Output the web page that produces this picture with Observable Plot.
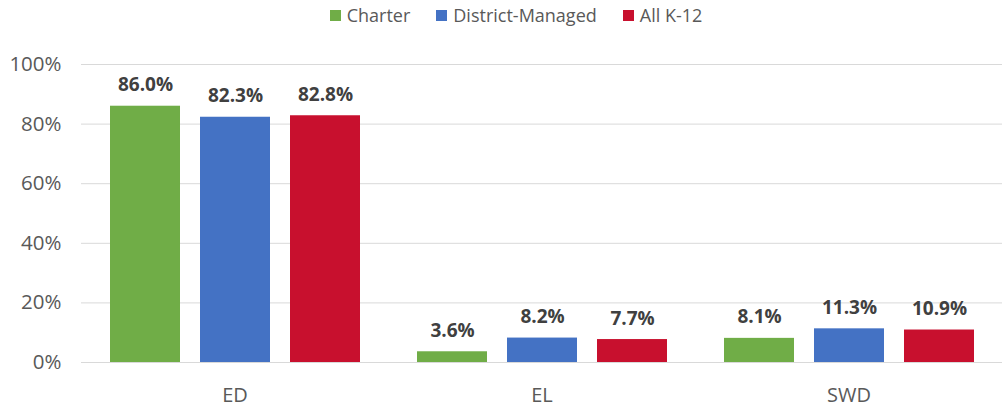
<!DOCTYPE html>
<html>
<head>
<meta charset="utf-8">
<script src="https://cdn.jsdelivr.net/npm/d3@7"></script>
<script src="https://cdn.jsdelivr.net/npm/@observablehq/plot@0.6"></script>
<style>
  html, body { margin: 0; padding: 0; background: #fff; }
  body { width: 1002px; font-family: "Open Sans", sans-serif; }
  #legend { height: 30px; display: flex; justify-content: center; align-items: center; gap: 26px; font-size: 18px; color: #595959; padding-left: 30px; box-sizing: border-box; }
  #legend .item { display: flex; align-items: center; gap: 6px; }
  #legend .sw { width: 11px; height: 11px; display: inline-block; }
  svg { display: block; }
</style>
</head>
<body>
<div id="legend"></div>
<div id="chart"></div>
<script>
const groups = ["ED", "EL", "SWD"];
const series = ["Charter", "District-Managed", "All K-12"];
const colors = ["#70AD47", "#4472C4", "#C8102E"];
const charter = [86.0, 3.6, 8.1];
const districtManaged = [82.3, 8.2, 11.3];
const allK12 = [82.8, 7.7, 10.9];
const yTicks = [0, 20, 40, 60, 80, 100];

const valuesBySeries = [charter, districtManaged, allK12];
const data = [];
groups.forEach((g, gi) => {
  series.forEach((s, si) => {
    data.push({group: g, series: s, value: valuesBySeries[si][gi]});
  });
});

const legend = document.getElementById("legend");
series.forEach((s, i) => {
  const it = document.createElement("div");
  it.className = "item";
  it.innerHTML = `<span class="sw" style="background:${colors[i]}"></span><span>${s}</span>`;
  legend.appendChild(it);
});

const chart = Plot.plot({
  width: 1002,
  height: 381,
  marginTop: 34,
  marginBottom: 49,
  marginLeft: 81,
  marginRight: 0,
  style: {fontFamily: "Open Sans, sans-serif", background: "#fff"},
  fx: {domain: groups, padding: 0, label: null},
  x: {domain: series, paddingInner: 0.224, paddingOuter: 0.3, axis: null},
  y: {domain: [0, 100], label: null},
  color: {domain: series, range: colors},
  marks: [
    Plot.ruleY(yTicks, {stroke: "#D9D9D9", strokeWidth: 1}),
    Plot.axisY({ticks: yTicks, tickSize: 0, tickPadding: 20, tickFormat: d => d + "%", fontSize: 20.5, fill: "#595959", label: null}),
    Plot.axisFx({anchor: "bottom", tickSize: 0, tickPadding: 25, fontSize: 20, fill: "#595959", label: null}),
    Plot.barY(data, {fx: "group", x: "series", y: "value", fill: "series"}),
    Plot.text(data, {fx: "group", x: "series", y: "value", text: d => d.value.toFixed(1) + "%", lineAnchor: "bottom", dy: -15, fontSize: 19, fontWeight: "bold", fill: "#404040"})
  ]
});
document.getElementById("chart").appendChild(chart);
</script>
</body>
</html>
